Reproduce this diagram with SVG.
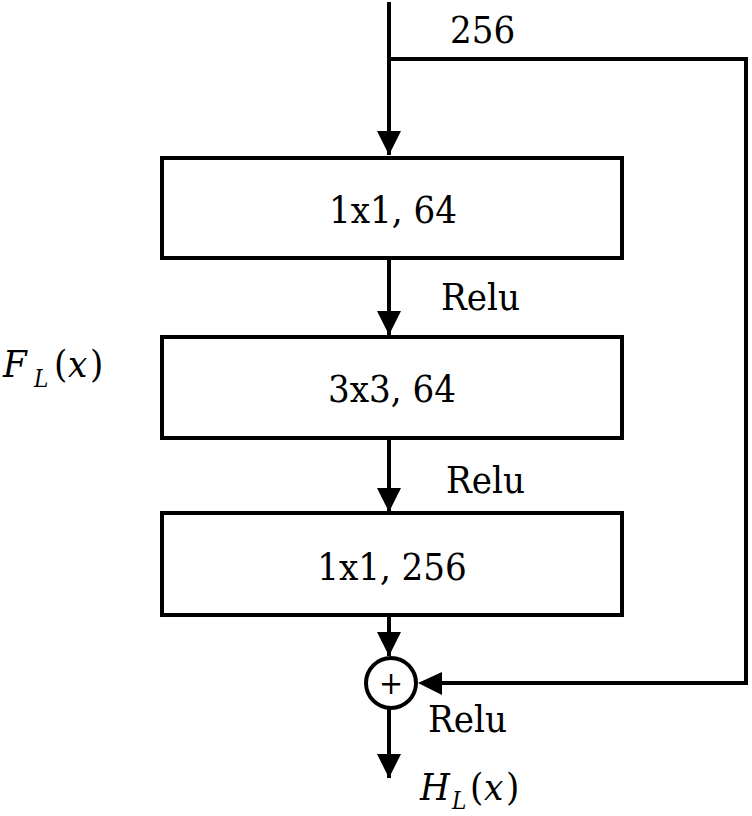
<svg xmlns="http://www.w3.org/2000/svg" width="752" height="816" viewBox="0 0 752 816">
<defs>
<style>
.box{fill:#fff;stroke:#000;stroke-width:4}
.ln{fill:none;stroke:#000;stroke-width:4}
.t{font-family:'DejaVu Serif Condensed','DejaVu Serif','Liberation Serif',serif;font-size:38px;fill:#000}
.m{font-family:'DejaVu Serif Condensed','DejaVu Serif','Liberation Serif',serif;font-size:38px;fill:#000}
.i{font-style:italic}
.s{font-style:italic;font-size:24px}
</style>
<marker id="ah" markerWidth="6.25" markerHeight="6" refX="6" refY="3" orient="auto" markerUnits="strokeWidth">
<path d="M0,0 L6,3 L0,6 z" fill="#000"/>
</marker>
</defs>
<rect width="752" height="816" fill="#fff"/>
<g id="connectors">
<line class="ln" x1="389" y1="2" x2="389" y2="155" marker-end="url(#ah)"/>
<polyline class="ln" points="389,59 746,59 746,683 442,683"/>
<path d="M442,672 L418,683 L442,695 z" fill="#000"/>
<line class="ln" x1="389" y1="258" x2="389" y2="335" marker-end="url(#ah)"/>
<line class="ln" x1="389" y1="438" x2="389" y2="512" marker-end="url(#ah)"/>
<line class="ln" x1="389" y1="615" x2="389" y2="656" marker-end="url(#ah)"/>
<line class="ln" x1="389" y1="709" x2="389" y2="778" marker-end="url(#ah)"/>
</g>
<g id="label-256"><text class="t" x="450" y="43">256</text></g>
<g id="conv1"><rect class="box" x="162" y="158" width="460" height="100"/><text class="t" x="393" y="223" text-anchor="middle">1x1, 64</text></g>
<g id="relu1"><text class="t" x="441" y="310">Relu</text></g>
<g id="conv2"><rect class="box" x="162" y="337" width="460" height="101"/><text class="t" x="392" y="402" text-anchor="middle">3x3, 64</text></g>
<g id="relu2"><text class="t" x="446" y="493">Relu</text></g>
<g id="conv3"><rect class="box" x="162" y="513" width="460" height="102"/><text class="t" x="392" y="580" text-anchor="middle">1x1, 256</text></g>
<g id="add"><circle cx="391" cy="683" r="25" fill="#fff" stroke="#000" stroke-width="4"/><text class="t" x="391" y="694" text-anchor="middle" style="font-size:32px">+</text></g>
<g id="relu3"><text class="t" x="428" y="732">Relu</text></g>
<g id="FL"><text class="m" y="377"><tspan class="i" x="3">F</tspan><tspan class="s" x="34" y="387">L</tspan><tspan x="54" y="377">(</tspan><tspan class="i" x="68">x</tspan><tspan x="90">)</tspan></text></g>
<g id="HL"><text class="m" y="800"><tspan class="i" x="420">H</tspan><tspan class="s" x="452" y="809">L</tspan><tspan x="470" y="800">(</tspan><tspan class="i" x="484">x</tspan><tspan x="506">)</tspan></text></g>
</svg>
